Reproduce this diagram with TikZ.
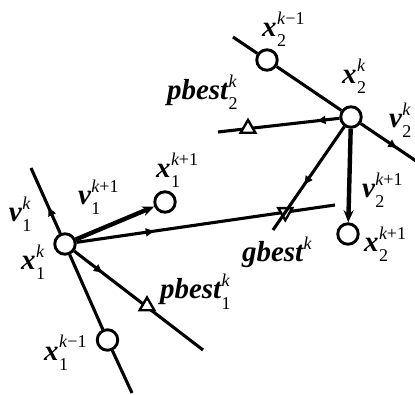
\documentclass[tikz,border=0pt]{standalone}
\usepackage{fontspec}
\setmainfont{Liberation Serif}
\usetikzlibrary{arrows.meta,shapes.geometric,decorations.markings}
\newcommand{\mainsz}{\fontsize{29}{29}\selectfont}
\newcommand{\scrsz}{\fontsize{18}{18}\selectfont}
\newcommand{\lab}[3]{{\mainsz\bfseries\itshape #1}\kern0.5pt\rlap{\raisebox{-10pt}{\scrsz #2}}\raisebox{12.5pt}{\scrsz #3}}
\begin{document}
\begin{tikzpicture}[x=1pt,y=-1pt,
  pt/.style={circle, draw, line width=2.9pt, fill=white, minimum size=20.5pt, inner sep=0pt},
  tri/.style={regular polygon, regular polygon sides=3, draw, line width=2.4pt, fill=white, minimum size=17pt, inner sep=0pt},
  ln/.style={line width=3.1pt},
  thk/.style={line width=4.4pt, -{Stealth[length=12pt,width=10pt]}},
  lbl/.style={anchor=base west, inner sep=0pt, outer sep=0pt},
  midarr/.style={postaction={decorate}, decoration={markings, mark=at position #1 with {\arrow{Latex[length=10pt,width=9pt]}}}}]
\clip (0,0) rectangle (415,395);
\fill[white] (0,0) rectangle (415,395);
% points
\node[pt] (x1k) at (65,244) {};
\node[pt] (x1km) at (107.5,340) {};
\node[pt] (x1kp) at (165,202) {};
\node[pt] (x2km) at (267,60) {};
\node[pt] (x2k) at (351,117) {};
\node[pt] (x2kp) at (348,234) {};
% free ends
\coordinate (t1) at (31,168);
\coordinate (b1) at (132,393);
\coordinate (e3) at (335,205);
\coordinate (e4) at (203,350);
\coordinate (t5) at (233,37);
\coordinate (e5) at (425,167);
\coordinate (e6) at (218,132);
\coordinate (e7) at (273,230);
% particle 1
\draw[ln, midarr=30pt] (x1k) -- (t1);
\draw[ln] (x1k) -- (x1km);
\draw[ln] (x1km) -- (b1);
\draw[thk] (x1k) -- (x1kp);
\draw[ln, midarr=80pt] (x1k) -- (e3);
\draw[ln, midarr=37pt] (x1k) -- (e4);
\node[tri] (pb1) at (147,306) {};
% particle 2
\draw[ln] (t5) -- (x2km);
\draw[ln] (x2km) -- (x2k);
\draw[ln, midarr=45pt] (x2k) -- (e5);
\draw[ln, midarr=24pt] (x2k) -- (e6);
\node[tri] (pb2) at (248,128.5) {};
\draw[thk] (x2k) -- (x2kp);
\node[tri, shape border rotate=180, minimum size=16pt] (gb) at (intersection of x1k--e3 and x2k--e7) {};
\draw[ln, midarr=72pt] (x2k) -- (e7);
% labels
\node[lbl] (lx1k) at (21,270) {\lab{x}{1}{\itshape k}};
\node[lbl] (lv1k) at (9,222) {\lab{v}{1}{\itshape k}};
\node[lbl] (lv1kp) at (78,205) {\lab{v}{1}{{\itshape k}+1}};
\node[lbl] (lx1kp) at (156,178) {\lab{x}{1}{{\itshape k}+1}};
\node[lbl] (lx1km) at (44,360) {\lab{x}{1}{{\itshape k}\kern0.5pt−1}};
\node[lbl] (lpb1) at (160,299) {\lab{pbest}{1}{\itshape k}};
\node[lbl] (lgb) at (242,262) {\lab{gbest}{}{\itshape k}};
\node[lbl] (lpb2) at (167,100) {\lab{pbest}{2}{\itshape k}};
\node[lbl] (lx2km) at (262,37) {\lab{x}{2}{{\itshape k}\kern0.5pt−1}};
\node[lbl] (lx2k) at (342,84) {\lab{x}{2}{\itshape k}};
\node[lbl] (lv2k) at (389,128) {\lab{v}{2}{\itshape k}};
\node[lbl] (lv2kp) at (362,198) {\lab{v}{2}{{\itshape k}+1}};
\node[lbl] (lx2kp) at (364,252) {\lab{x}{2}{{\itshape k}+1}};
\end{tikzpicture}
\end{document}
